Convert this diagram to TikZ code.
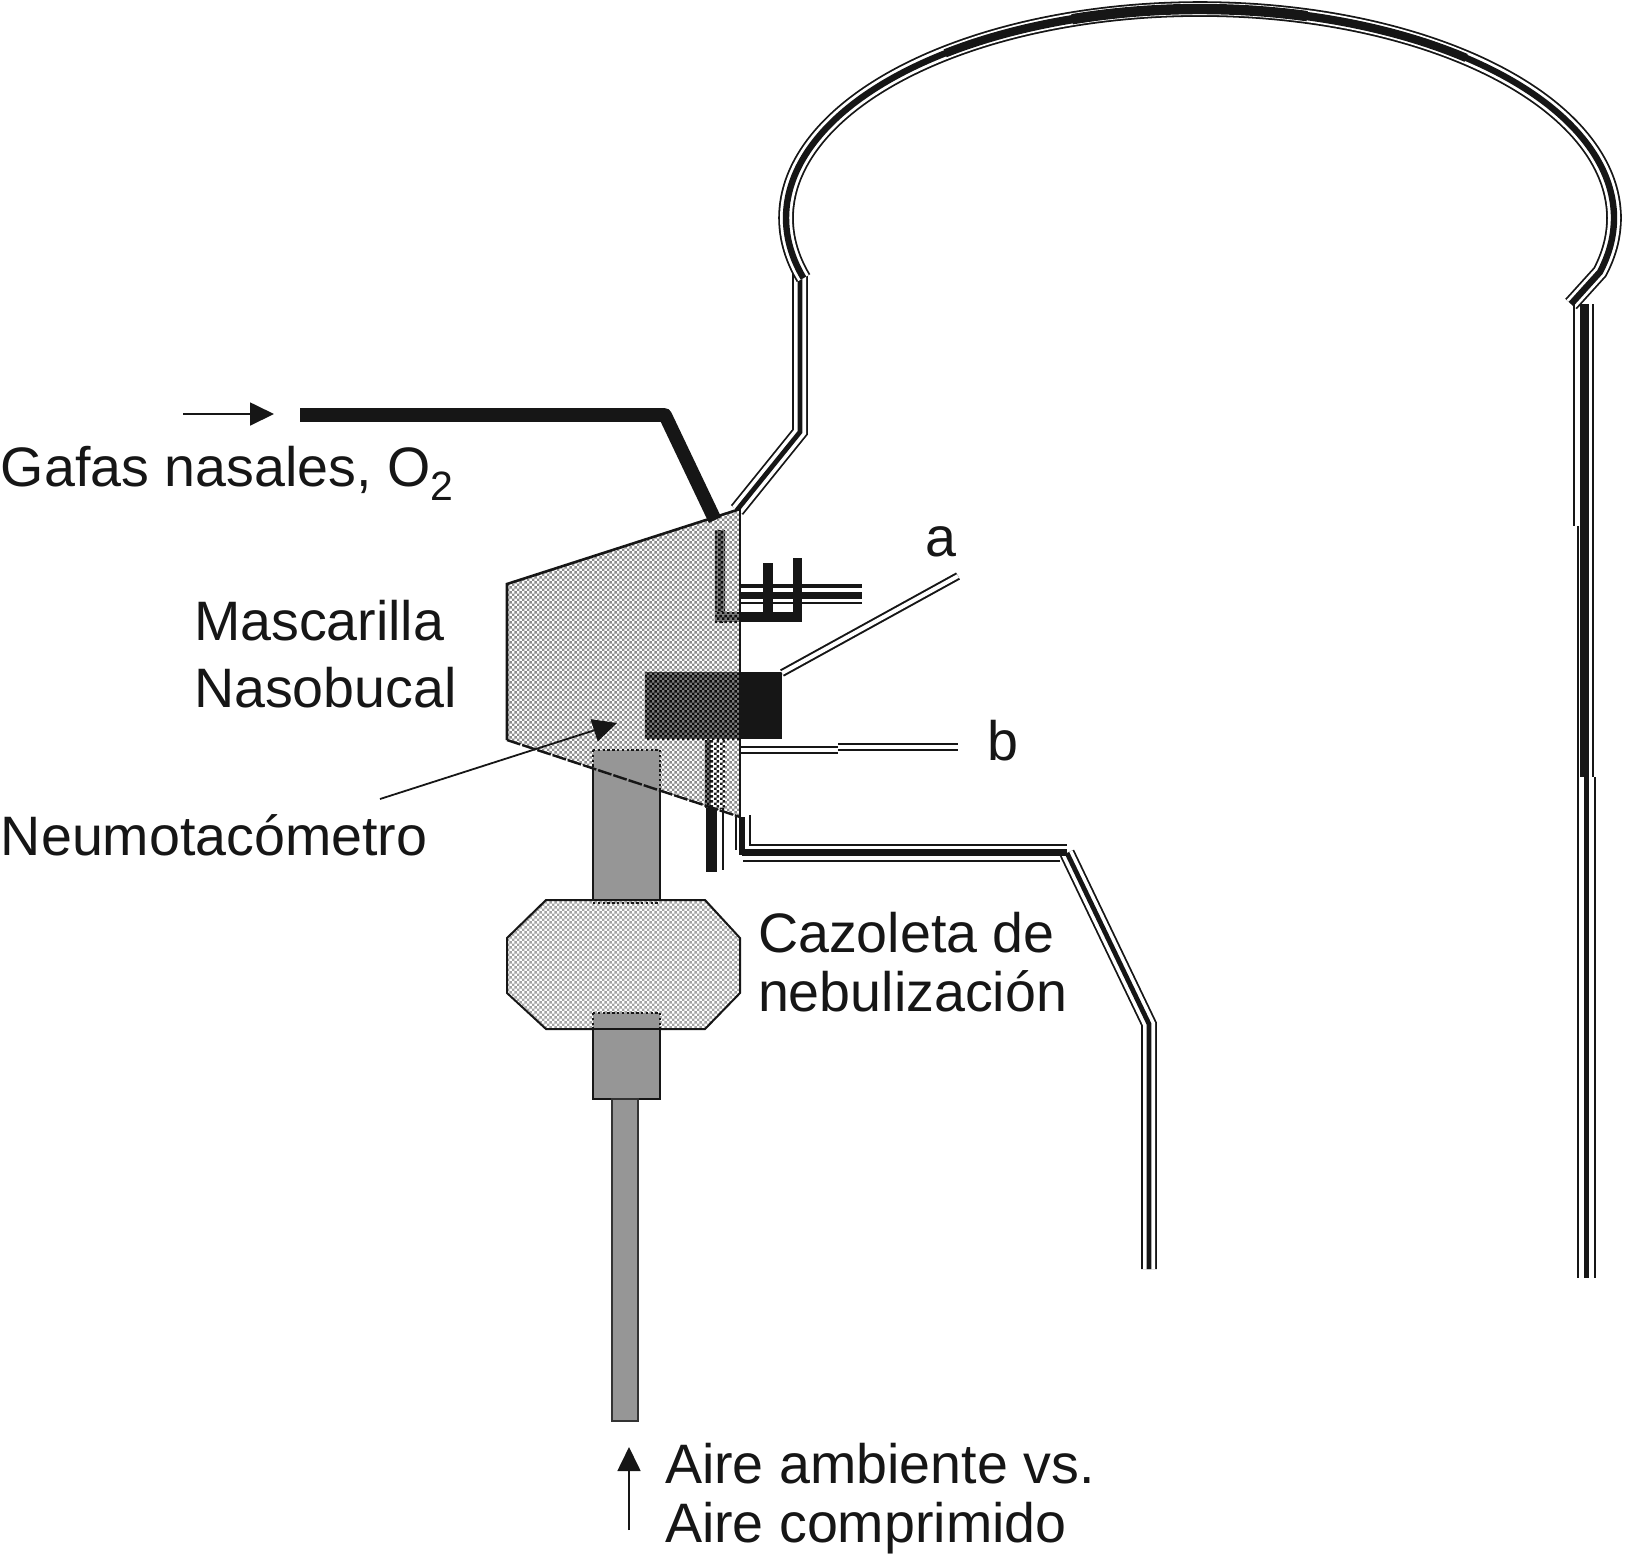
\documentclass[tikz,border=0pt]{standalone}
\usepackage{fontspec}
\setmainfont{Liberation Sans}
\usetikzlibrary{arrows.meta,patterns}
\definecolor{ink}{HTML}{161616}
\definecolor{tubegray}{HTML}{969696}
\definecolor{darkbase}{HTML}{7A7A7A}
\pgfdeclarepatternformonly{checkfine}{\pgfpointorigin}{\pgfqpoint{2.7pt}{2.7pt}}{\pgfqpoint{2.7pt}{2.7pt}}{%
  \pgfpathrectangle{\pgfpointorigin}{\pgfqpoint{1.35pt}{1.35pt}}%
  \pgfpathrectangle{\pgfqpoint{1.35pt}{1.35pt}}{\pgfqpoint{1.35pt}{1.35pt}}%
  \pgfusepath{fill}}
\newcommand{\tubo}[1]{%
  \draw[tubeouter] #1;
  \draw[tubewhite] #1;
  \draw[tubecore] #1;}
\newcommand{\dbl}[1]{%
  \draw[dblouter] #1;
  \draw[dblwhite] #1;}
\tikzset{
  tubeouter/.style={draw=ink,line width=7.8pt,line join=miter},
  tubewhite/.style={draw=white,line width=6pt,line join=miter},
  tubecore/.style={draw=ink,line width=2.4pt,line join=miter},
  dblouter/.style={draw=ink,line width=4pt},
  dblwhite/.style={draw=white,line width=2pt},
  thinline/.style={draw=ink,line width=1pt},
  heavy/.style={draw=ink,line width=6.8pt,line join=round},
  solidblock/.style={fill=ink,draw=none},
  tubefill/.style={fill=tubegray,draw=none},
  tubeedge/.style={draw=ink,line width=1.4pt},
  dottededge/.style={draw=ink,line width=1.4pt,dash pattern=on 1.2pt off 1.2pt},
  flowarrow/.style={draw=ink,line width=.9pt,-{Triangle[length=12pt,width=11.5pt]}},
  lbl/.style={anchor=base west,inner sep=0pt,outer sep=0pt,font=\fontsize{27.8}{32}\selectfont,text=ink},
  maskfill/.style={preaction={fill=white},pattern=checkfine,pattern color=black!45},
  cupfill/.style={preaction={fill=white},pattern=checkfine,pattern color=black!36},
  darkfill/.style={preaction={fill=darkbase},pattern=checkfine,pattern color=black!95},
  gridfill/.style={preaction={fill=white},pattern=checkfine,pattern color=black!90}
}
\begin{document}
\begin{tikzpicture}[x=.5pt,y=-.5pt]
\useasboundingbox (0,0) rectangle (1625,1560);
% breathing circuit: arch
\tubo{(800,270) -- (800,432) -- (737,510)}
\def\archpath{plot[domain=196.7:-15,samples=120,smooth] ({1200+414*cos(\x)},{218-209*sin(\x)}) -- (1571,304)}
\draw[tubeouter] \archpath;
\draw[tubewhite] \archpath;
\draw[draw=ink,line width=3.2pt] \archpath;
\draw[draw=ink,line width=4.2pt] plot[domain=128:50,samples=50,smooth] ({1200+414*cos(\x)},{218-209*sin(\x)});
\draw[draw=ink,line width=5.2pt] plot[domain=108:75,samples=30,smooth] ({1200+414*cos(\x)},{218-209*sin(\x)});
% right tube
\fill[solidblock] (1580,304) rectangle (1589,777);
\fill[solidblock] (1584,777) rectangle (1589,1278);
\draw[thinline] (1574,304) -- (1574,526);
\draw[thinline] (1578,526) -- (1578,1278);
\draw[thinline] (1593,304) -- (1593,777);
\draw[thinline] (1595,777) -- (1595,1278);
% expiratory tube
\tubo{(1067,853) -- (1149,1024) -- (1149,1269)}
\fill[solidblock] (739,817) rectangle (745,855);
\fill[solidblock] (742,849) rectangle (1067,855.5);
\draw[thinline] (750,815) -- (750,845) -- (1067,845);
\draw[thinline] (743,861) -- (1060,861);
\draw[thinline] (736,817) -- (736,850);
% mask
\coordinate (mA) at (507,584);
\coordinate (mB) at (740,509);
\coordinate (mC) at (740,817);
\coordinate (mD) at (507,740);
\fill[maskfill] (mA) -- (mB) -- (mC) -- (mD) -- cycle;
% side ports
\fill[solidblock] (740,584) rectangle (862,588);
\fill[solidblock] (740,592) rectangle (862,599);
\fill[solidblock] (740,602) rectangle (862,604);
\fill[solidblock] (763,563) rectangle (773,612);
\fill[solidblock] (793,558) rectangle (802,612);
\fill[solidblock] (740,612) rectangle (802,622);
\fill[darkfill] (715,530) rectangle (725,622);
\fill[darkfill] (715,612) rectangle (740,622);
% pneumotachometer
\fill[darkfill] (645,672) rectangle (740,739);
\fill[solidblock] (740,672) rectangle (782,739);
\dbl{(782,673) -- (958,576)}
\dbl{(740,750) -- (838,750)}
\dbl{(838,747) -- (958,747)}
% lower dithered port
\fill[gridfill] (707,740) rectangle (725,808);
\fill[darkfill] (705,740) rectangle (711,808);
\fill[solidblock] (706,808) rectangle (717,872);
\draw[thinline] (723,808) -- (723,870);
% air tube
\fill[tubefill] (593,750) rectangle (660,900);
\draw[dottededge] (593,750) -- (660,750);
\draw[dottededge] (593,750) -- (593,768);
\draw[dottededge] (660,750) -- (660,790);
\draw[tubeedge] (593,768) -- (593,900);
\draw[tubeedge] (660,790) -- (660,900);
% mask outline
\draw[draw=ink,line width=1.3pt] (mD) -- (mA) -- (mB);
\draw[draw=ink,line width=1pt] (mB) -- (mC);
\draw[draw=ink,line width=1.2pt,dash pattern=on 7pt off 1pt] (mD) -- (mC);
% thick O2 line
\draw[heavy] (300,415) -- (665,415) -- (715,520);
% cup
\fill[cupfill] (546,900) -- (705,900) -- (740,938) -- (740,993) -- (705,1029) -- (546,1029) -- (507,993) -- (507,938) -- cycle;
\draw[draw=ink,line width=1pt] (546,900) -- (705,900) -- (740,938) -- (740,993) -- (705,1029) -- (546,1029) -- (507,993) -- (507,938) -- cycle;
\draw[dottededge] (593,903) -- (660,903);
\fill[tubefill] (593,1013) rectangle (660,1099);
\draw[dottededge] (593,1013) -- (660,1013);
\draw[dottededge] (593,1013) -- (593,1029);
\draw[dottededge] (660,1013) -- (660,1029);
\draw[tubeedge] (546,1029) -- (705,1029);
\draw[tubeedge] (593,1029) -- (593,1099) -- (660,1099) -- (660,1029);
\fill[tubefill,draw=black!80,line width=1pt] (612,1099) rectangle (638,1421);
% arrows
\coordinate (o2s) at (183,414);
\coordinate (o2e) at (274,414);
\coordinate (ns) at (380,799);
\coordinate (ne) at (617,723);
\coordinate (as) at (629,1530);
\coordinate (ae) at (629,1447);
\draw[flowarrow] (o2s) -- (o2e);
\draw[flowarrow] (ns) -- (ne);
\draw[flowarrow] (as) -- (ae);
% labels
\node[lbl] (tGafas) at (1,486) {Gafas nasales, O\raisebox{-7pt}{\fontsize{20.5}{24}\selectfont 2}};
\node[lbl] (tMasc) at (194,640) {Mascarilla};
\node[lbl] (tNaso) at (194,707) {Nasobucal};
\node[lbl] (tNeumo) at (1,855) {Neumotacómetro};
\node[lbl] (tCaz) at (758,952) {Cazoleta de};
\node[lbl] (tNeb) at (758,1011) {nebulización};
\node[lbl] (tAire) at (665,1483) {Aire ambiente vs.};
\node[lbl] (tComp) at (665,1542) {Aire comprimido};
\node[lbl] (tA) at (925,556) {a};
\node[lbl] (tB) at (987,760) {b};
\end{tikzpicture}
\end{document}
